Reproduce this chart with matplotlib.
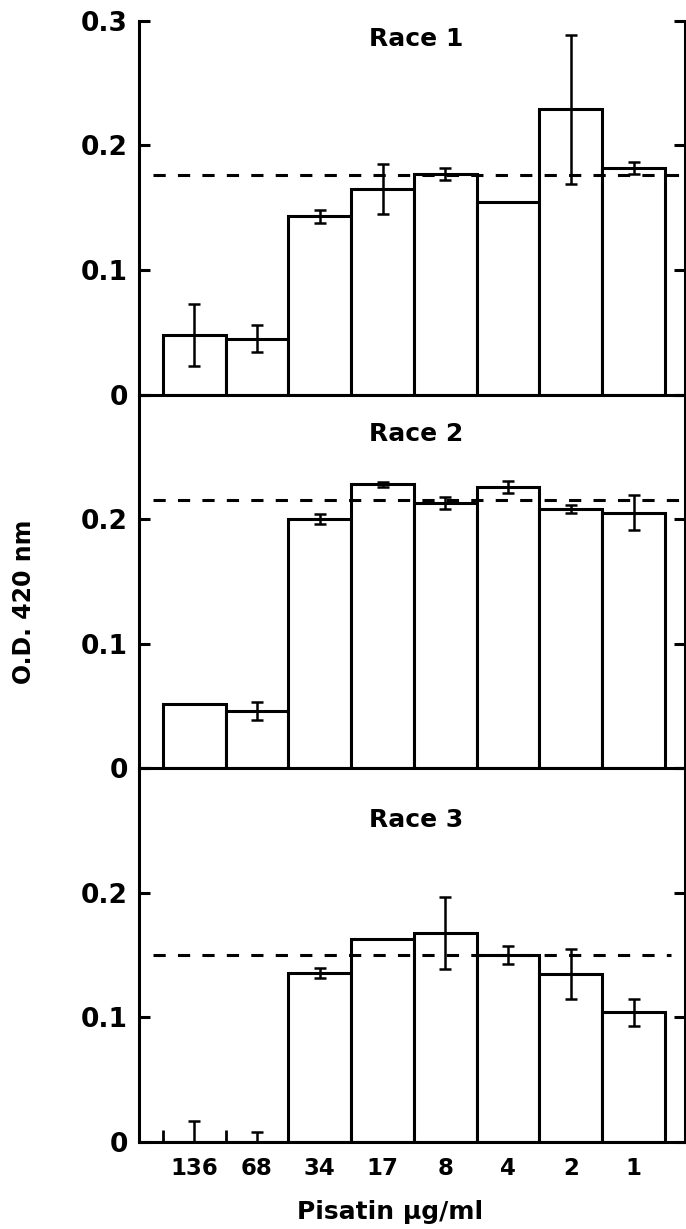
# Pisatin dose response for three races, O.D. 420 nm
import numpy as np
import matplotlib
matplotlib.use('Agg')
import matplotlib.pyplot as plt

plt.rcParams['font.family'] = ['DejaVu Sans']

conc = ['136', '68', '34', '17', '8', '4', '2', '1']

race1 = [0.048, 0.045, 0.143, 0.165, 0.177, 0.155, 0.229, 0.182]
race1_err = [0.025, 0.011, 0.005, 0.020, 0.005, 0.0, 0.060, 0.005]
race1_ctrl = 0.176

race2 = [0.052, 0.046, 0.200, 0.228, 0.213, 0.226, 0.208, 0.205]
race2_err = [0.0, 0.007, 0.004, 0.002, 0.005, 0.005, 0.003, 0.014]
race2_ctrl = 0.215

race3 = [0.0, 0.0, 0.136, 0.163, 0.168, 0.150, 0.135, 0.104]
race3_err = [0.017, 0.008, 0.004, 0.0, 0.029, 0.007, 0.020, 0.011]
race3_ctrl = 0.150

titles = ['Race 1', 'Race 2', 'Race 3']
yticks = [0, 0.1, 0.2, 0.3]

fig = plt.figure(figsize=(6.86, 12.29), dpi=100)

left, width = 139 / 686, 546 / 686
bottom0, h = 1 - 1142 / 1229, 373.7 / 1229
title_y = [0.952, 0.895, 0.861]
ctrl_xmax = [1.0, 1.0, 0.975]

panels = [(race1, race1_err, race1_ctrl), (race2, race2_err, race2_ctrl),
          (race3, race3_err, race3_ctrl)]
x = np.arange(len(conc))
lw = 2.2

for i, (vals, errs, ctrl) in enumerate(panels):
    ax = fig.add_axes([left, bottom0 + (2 - i) * h, width, h])
    ax.bar(x, vals, width=1.0, color='white', edgecolor='black', linewidth=lw, zorder=2)
    errs = np.array(errs)
    m = errs > 0
    ax.errorbar(x[m], np.array(vals)[m], yerr=errs[m], fmt='none', ecolor='black',
                elinewidth=1.8, capsize=4, capthick=1.8, zorder=3)
    ax.axhline(ctrl, xmin=0.025, xmax=ctrl_xmax[i], color='black', lw=lw,
               dashes=(4, 4), zorder=4)
    ax.set_xlim(-0.88, 7.82)
    ax.set_ylim(0, 0.3)
    ax.spines['top'].set_visible(False)
    for s in ['left', 'right', 'bottom']:
        ax.spines[s].set_linewidth(lw)
    ax.set_yticks(yticks)
    labels = ['0', '0.1', '0.2', '0.3'] if i == 0 else ['0', '0.1', '0.2', '']
    ax.set_yticklabels(labels)
    ax.tick_params(axis='y', which='major', direction='in', length=8, width=lw,
                   left=True, right=True, labelsize=19, pad=8)
    for t in ax.get_yticklabels():
        t.set_fontweight('bold')
    ax.set_xticks(x)
    if i == 2:
        ax.set_xticklabels(conc, fontsize=16.5, fontweight='bold')
        ax.tick_params(axis='x', which='major', length=0, pad=11)
        ax.set_xticks(np.arange(-0.5, 8, 1), minor=True)
        ax.tick_params(axis='x', which='minor', direction='in', length=9, width=2)
    else:
        ax.set_xticklabels([])
        ax.tick_params(axis='x', length=0)
    ax.text(0.508, title_y[i], titles[i], transform=ax.transAxes, ha='center',
            va='center', fontsize=18, fontweight='bold')
    ax.patch.set_alpha(0)

fig.text(24 / 686, 1 - 602 / 1229, 'O.D. 420 nm', rotation=90, ha='center',
         va='center', fontsize=17, fontweight='bold')
fig.text(390 / 686, 1 - 1212 / 1229, 'Pisatin μg/ml', ha='center', va='center',
         fontsize=18, fontweight='bold')

plt.savefig('out.png', dpi=100)
